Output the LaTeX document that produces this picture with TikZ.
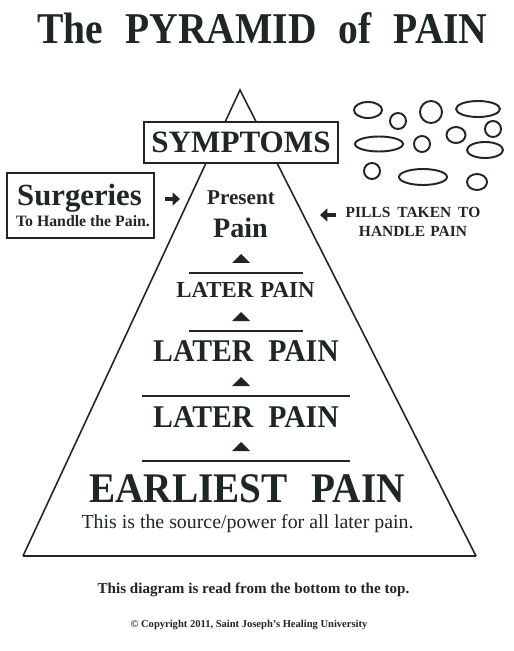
\documentclass[tikz,border=0pt]{standalone}
\usepackage{fontspec}
\setmainfont{Liberation Serif}
\usepackage{tikz}
\usetikzlibrary{arrows.meta}
\definecolor{ink}{HTML}{1E2724}
\newcommand{\pxu}{0.02cm}
\newcommand{\fsz}[1]{\fontsize{#1}{#1}\selectfont}
\newcommand{\pyrtopx}{240}
\newcommand{\pyrtopy}{90}
\newcommand{\pyrlx}{23}
\newcommand{\pyrrx}{476}
\newcommand{\pyrbasey}{556}
\newcommand{\midx}{246}
\tikzset{
  pyredge/.style={draw=ink, line width=0.9pt, line join=miter},
  pyrbase/.style={draw=ink, line width=1.4pt},
  boxed/.style={draw=ink, line width=1.1pt, fill=white, inner sep=0pt, anchor=center},
  pill/.style={draw=ink, line width=1.1pt},
  divline/.style={draw=ink, line width=0.8pt},
  fatarrow/.style={draw=ink, line width=2.6pt, -{Triangle[length=4.2pt,width=7.4pt]}}
}
\begin{document}
\begin{tikzpicture}[x=\pxu, y=-\pxu, anchor=base, font=\bfseries, text=ink]
    \useasboundingbox (0,0) rectangle (513,651);
    \fill[white] (0,0) rectangle (513,651);

    \node (title) at (262.5,44) {\fsz{25}\scalebox{0.9}[1]{The\hspace{14pt}PYRAMID\hspace{14pt}of\hspace{14pt}PAIN}};

    % pyramid behind the symptoms box
    \draw[pyredge] (\pyrlx,\pyrbasey) -- (\pyrtopx,\pyrtopy) -- (\pyrrx,\pyrbasey);
    \draw[pyrbase] (\pyrlx,\pyrbasey) -- (\pyrrx,\pyrbasey);

    \node (symptoms) at (241,142.5) [boxed, minimum width=194*\pxu,
      minimum height=41*\pxu] {\fsz{17.7}SYMPTOMS};

    \node (surg) at (80.5,205.5) [boxed, minimum width=147*\pxu,
      minimum height=65*\pxu] {};
    \node (surgtxt) at (79.5,206) {\fsz{17.5}Surgeries};
    \node (surgsub) at (83,227) {\fsz{9}To Handle the Pain.};

    \node (present) at (241,205) {\fsz{12}Present};
    \node (presentpain) at (240.5,238) {\fsz{16}Pain};

    \node (pills) at (413,218) {\fsz{8.8}PILLS\hspace{4pt}TAKEN\hspace{4pt}TO};
    \node (pillsb) at (413,237) {\fsz{8.8}HANDLE\hspace{3pt}PAIN};

    \coordinate (surgarrs) at (165,199);
    \coordinate (surgarre) at (180,199);
    \draw[fatarrow] (surgarrs) -- (surgarre);
    \coordinate (pillarrs) at (336,215);
    \coordinate (pillarre) at (320,215);
    \draw[fatarrow] (pillarrs) -- (pillarre);

    % pills
    \foreach \ox/\oy/\orx/\ory in {368/110/14/8, 398/121/8/8, 431/112/11/11,
      478/109/22/8, 493/129/8/8, 456/135/9.5/8, 379/144/24/7.5, 422/144/8/8,
      485/150/18/8, 372/171/8/8, 423/177/24/8, 477/182/10/8}
      \draw[pill] (\ox,\oy) ellipse [x radius=\orx, y radius=\ory];

    % up markers and divider lines
    \foreach \ly/\lw in {273/57, 331/57, 396/104, 461/104} {
      \fill[ink] (241,\ly-19) -- (250,\ly-10) -- (232,\ly-10) -- cycle;
      \draw[divline] (\midx-\lw,\ly) -- (\midx+\lw,\ly);
    }

    \node (laterc) at (245.5,297) {\fsz{13}LATER\hspace{4pt}PAIN};
    \node (laterb) at (246,361) {\fsz{18}\scalebox{0.94}[1]{LATER\hspace{9pt}PAIN}};
    \node (latera) at (246,427) {\fsz{18}\scalebox{0.94}[1]{LATER\hspace{9pt}PAIN}};
    \node (earliest) at (247,502) {\fsz{24}\scalebox{0.93}[1]{EARLIEST\hspace{14.6pt}PAIN}};
    \node (source) at (247.5,528) {\mdseries\fsz{11.3}This is the source/power for all later pain.};

    \node (readnote) at (253.5,593) {\fsz{8.6}This diagram is read from the bottom to the top.};
    \node (copyright) at (249,627) {\fsz{6}© Copyright 2011, Saint Joseph’s Healing University};
  \end{tikzpicture}
\end{document}
